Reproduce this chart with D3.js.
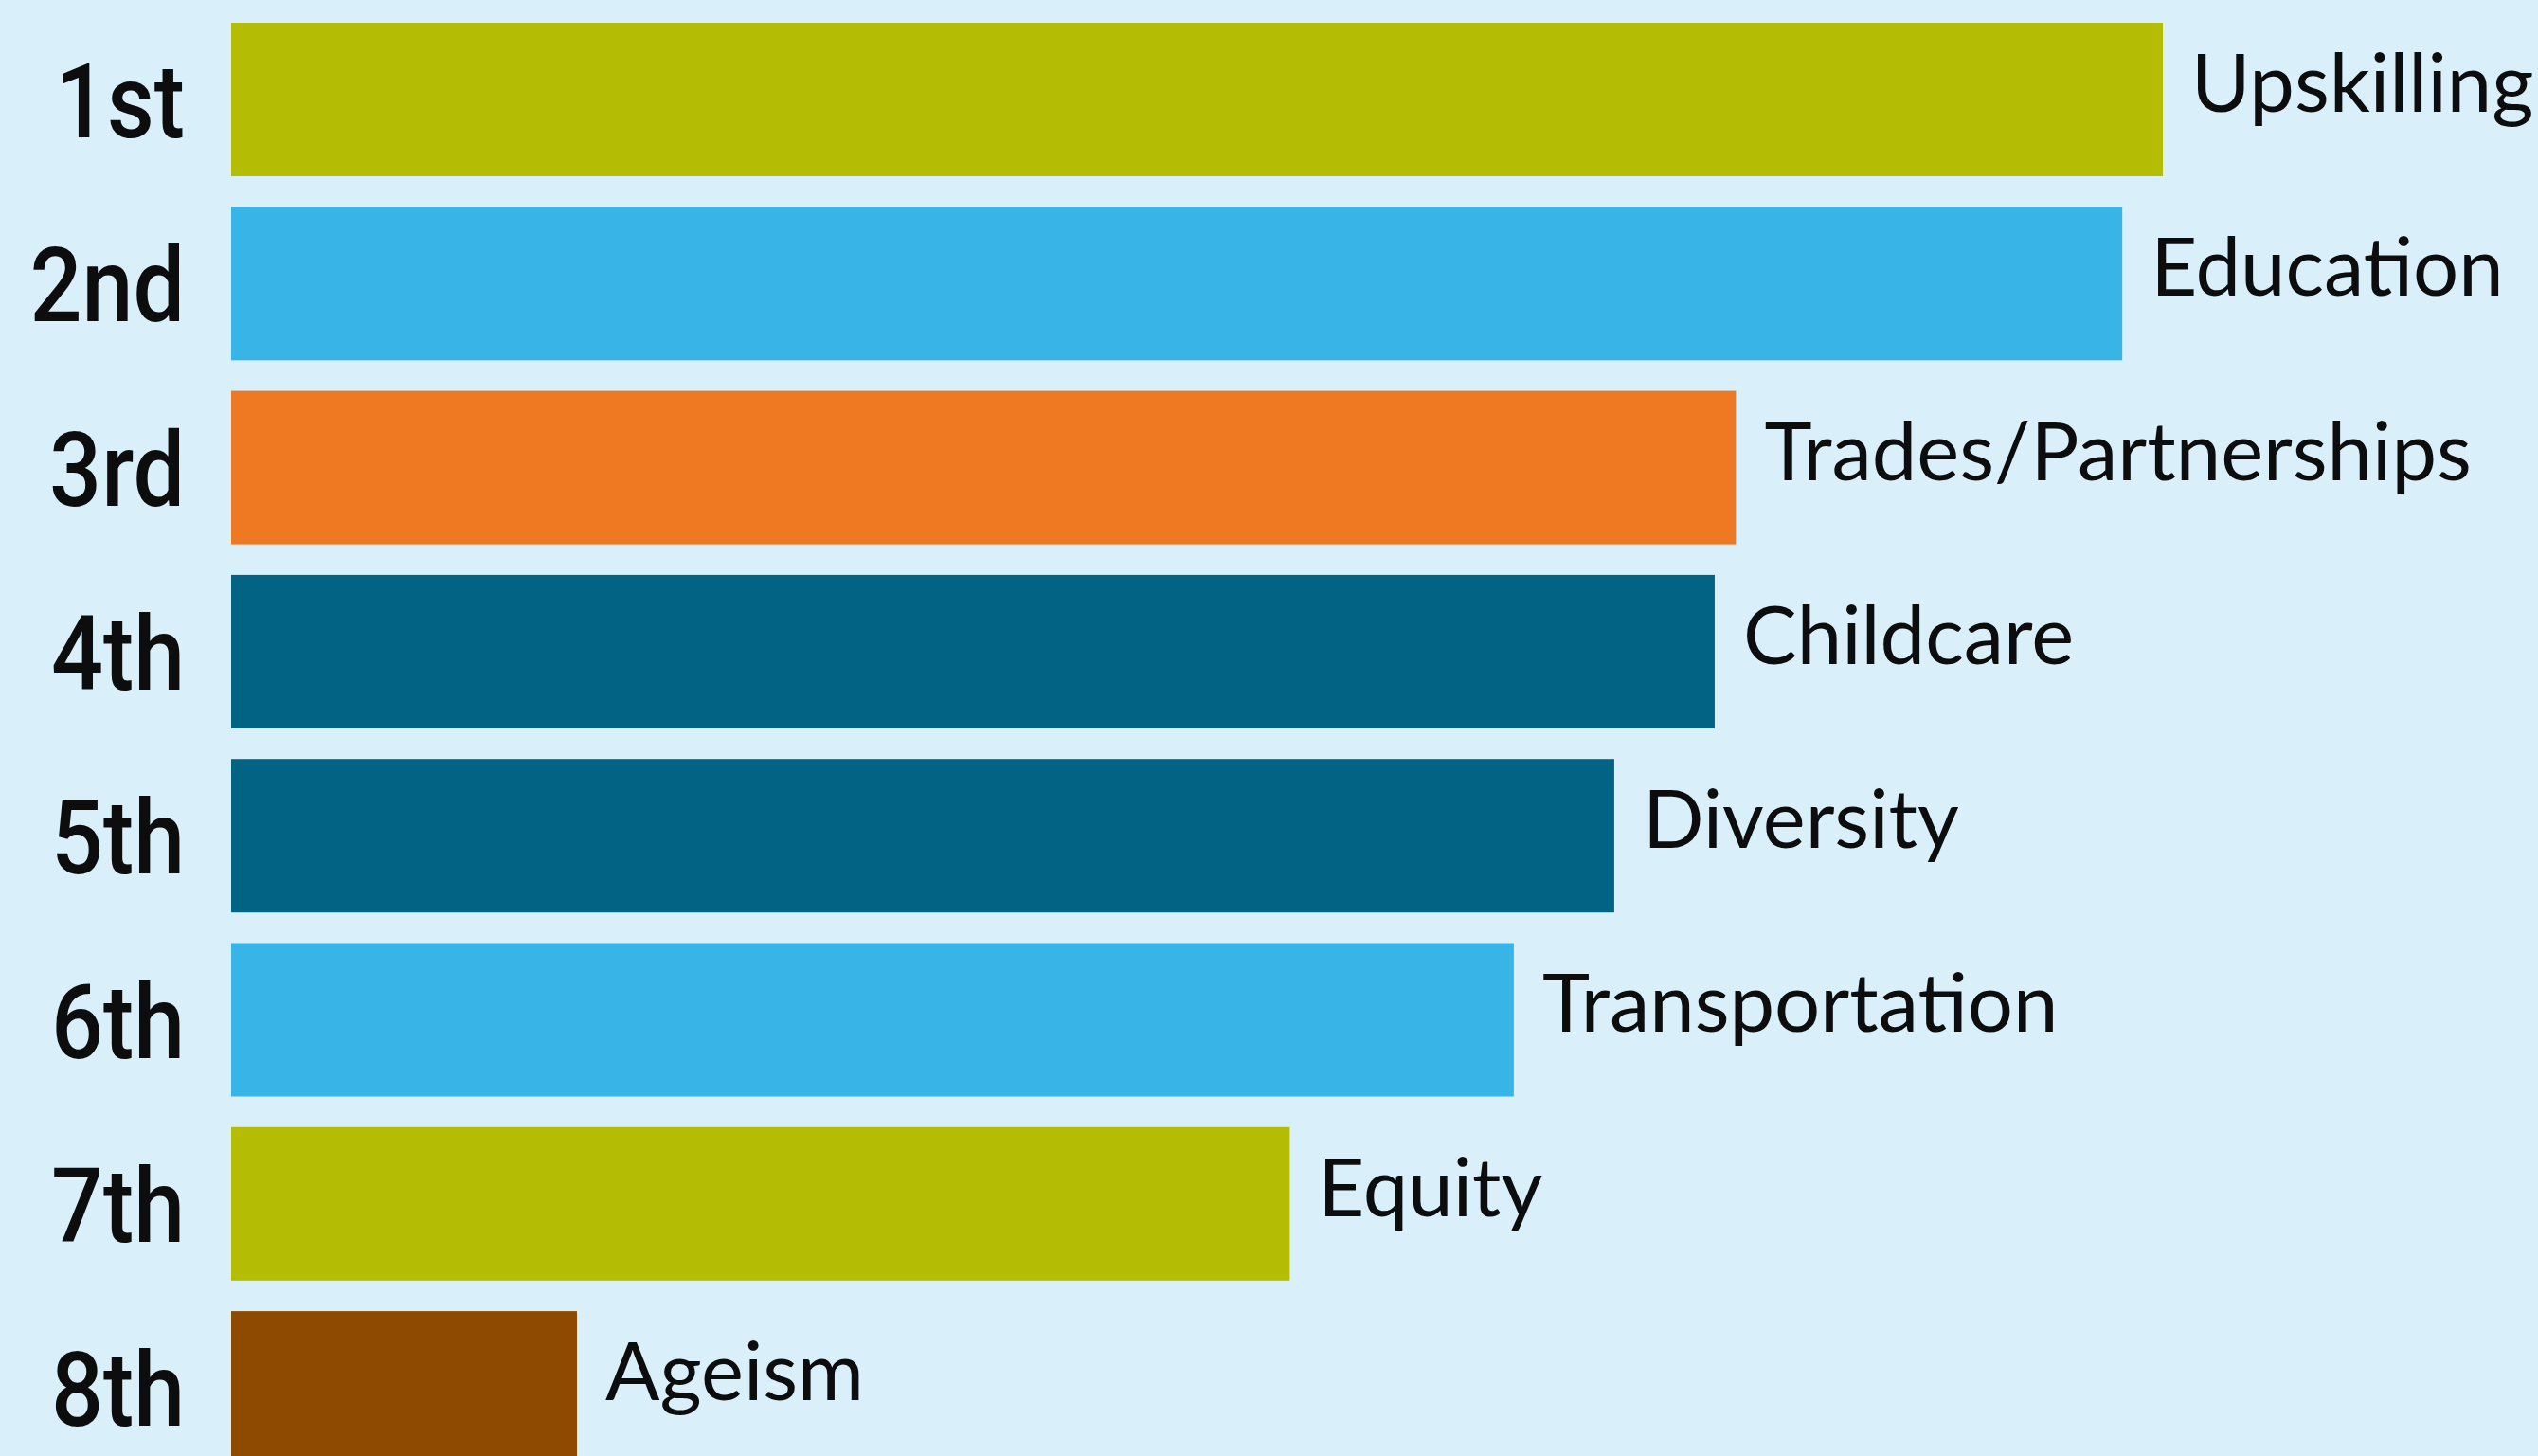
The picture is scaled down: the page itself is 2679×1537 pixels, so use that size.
<!DOCTYPE html>
<html>
<head>
<meta charset="utf-8">
<script src="https://cdn.jsdelivr.net/npm/d3@7"></script>
<style>
  html, body { margin: 0; padding: 0; background: #d9f0fb; }
  svg { display: block; }
</style>
</head>
<body>
<script>
// ---- data ----
const ranks = ["1st", "2nd", "3rd", "4th", "5th", "6th", "7th", "8th"];
const categories = ["Upskilling", "Education", "Trades/Partnerships", "Childcare", "Diversity", "Transportation", "Equity", "Ageism"];
const values = [100, 97.9, 77.9, 76.8, 71.6, 66.4, 54.8, 17.9];
const colors = ["#b4bc04", "#38b5e6", "#ef7823", "#036384", "#036384", "#38b5e6", "#b4bc04", "#8f4a02"];

const W = 2679, H = 1537;
const svg = d3.select("body").append("svg").attr("width", W).attr("height", H);
svg.append("rect").attr("width", W).attr("height", H).attr("fill", "#d9f0fb");

const x = d3.scaleLinear().domain([0, 100]).range([244, 2283]);
const y = d3.scaleBand().domain(ranks).range([7.85, 1562.25]).paddingInner(0.1662).paddingOuter(0.0831);

const rows = ranks.map((r, i) => ({ rank: r, cat: categories[i], v: values[i], c: colors[i] }));

svg.selectAll("rect.bar").data(rows).join("rect")
  .attr("class", "bar")
  .attr("x", x(0))
  .attr("y", d => y(d.rank))
  .attr("width", d => x(d.v) - x(0))
  .attr("height", y.bandwidth())
  .attr("fill", d => d.c);

// rank labels (left)
const rankG = svg.selectAll("g.rank").data(rows).join("g")
  .attr("class", "rank")
  .attr("transform", d => `translate(195, ${y(d.rank) + y.bandwidth() / 2 + 40}) scale(0.88,1)`);
rankG.append("text")
  .attr("text-anchor", "end")
  .attr("font-family", "Roboto, 'Liberation Sans', Arial, sans-serif")
  .attr("font-weight", 500)
  .attr("font-size", 110)
  .attr("fill", "#0d0d0d")
  .text(d => d.rank);

// category labels (right of bars)
svg.selectAll("text.cat").data(rows).join("text")
  .attr("class", "cat")
  .attr("x", d => x(d.v) + 30)
  .attr("y", d => y(d.rank) + 94)
  .attr("font-family", "Lato, 'Noto Sans', sans-serif")
  .attr("font-size", 85)
  .attr("fill", "#0d0d0d")
  .text(d => d.cat);
</script>
</body>
</html>
